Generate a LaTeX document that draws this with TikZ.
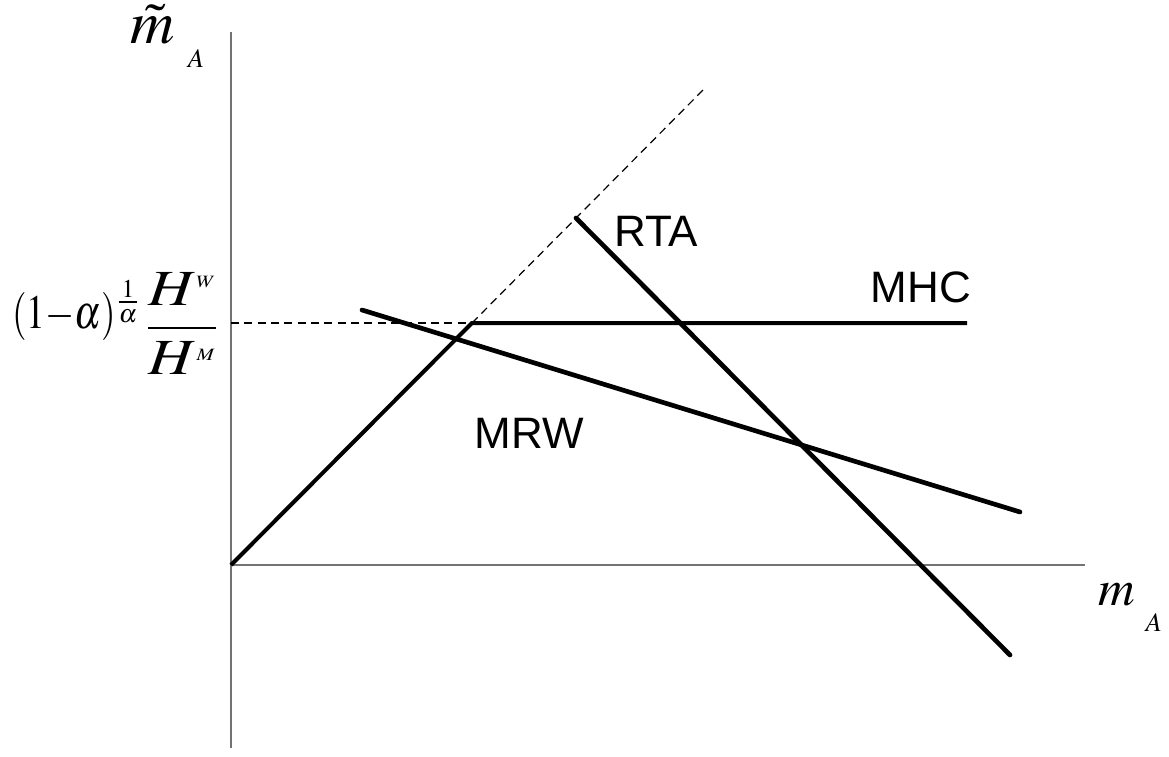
\documentclass[tikz,border=0pt]{standalone}
\usepackage{mathptmx}
\usepackage[no-math]{fontspec}
\setmainfont{Liberation Sans}
\usetikzlibrary{positioning}
\tikzset{
    axis/.style={draw=black!55, line width=1pt},
    curve/.style={line width=3.5pt, line cap=round},
    guide/.style={dash pattern=on 6pt off 4pt, line width=0.9pt},
    tag/.style={font=\fontsize{33}{36}\selectfont, inner sep=0pt},
    mathlabel/.style={inner sep=0pt}
}
\newcommand{\tinysup}[1]{\mbox{\fontsize{13}{13}\selectfont$#1$}}

\begin{document}
\begin{tikzpicture}[x=0.75pt, y=-0.75pt]
	\useasboundingbox (0,0) rectangle (1169,756);
	% axes
	\coordinate(O) at (231,565);
	\coordinate(Ytop) at (231,32);
	\coordinate(Ybot) at (231,748);
	\coordinate(Xend) at (1085,565);
	\draw[axis](Ybot)--(Ytop);
	\draw[axis](O)--(Xend);
	\node(Ylabel)[mathlabel, anchor=base west] at (130,44){\fontsize{46}{50}\selectfont$\tilde{m}$\hspace{10pt}\raisebox{-18pt}{\fontsize{20}{20}\selectfont$A$}};
	\node(Xlabel)[mathlabel, anchor=base west] at (1098,605){\fontsize{38}{42}\selectfont$m$\hspace{8pt}\raisebox{-20pt}{\fontsize{20}{20}\selectfont$A$}};
	% constraint lines
	\coordinate(Kink) at (472,323);
	\coordinate(MHCend) at (967,323);
	\coordinate(DiagEnd) at (703,90);
	\coordinate(Hleft) at (231,323);
	\coordinate(MRWa) at (362,310);
	\coordinate(MRWb) at (1020,512);
	\coordinate(RTAa) at (576,218);
	\coordinate(RTAb) at (1010,655);
	\draw[guide](Hleft)--(Kink);
	\draw[guide](Kink)--(DiagEnd);
	\draw[curve, line width=3pt, line cap=butt](O)--(Kink)--(MHCend);
	\draw[curve](MRWa)--(MRWb);
	\draw[curve](RTAa)--(RTAb);
	% level of the MHC line
	\node(Coef)[mathlabel, anchor=base west] at (12,328){\scalebox{0.78}[1]{\fontsize{36}{40}\selectfont$(1{-}\alpha)$}\hspace{1pt}\raisebox{13pt}{\fontsize{26}{26}\selectfont$\frac{1}{\alpha}$}};
	\node(Ratio)[mathlabel, anchor=west] at (146,324){\scalebox{1.2}[1]{\fontsize{38}{42}\selectfont$\displaystyle\frac{H^{\tinysup{W}}}{H^{\tinysup{M}}}$}};
	\node(RTA)[tag] at (656,231){RTA};
	\node(MHC)[tag] at (921,287){MHC};
	\node(MRW)[tag] at (529,433){MRW};
\end{tikzpicture}
\end{document}
